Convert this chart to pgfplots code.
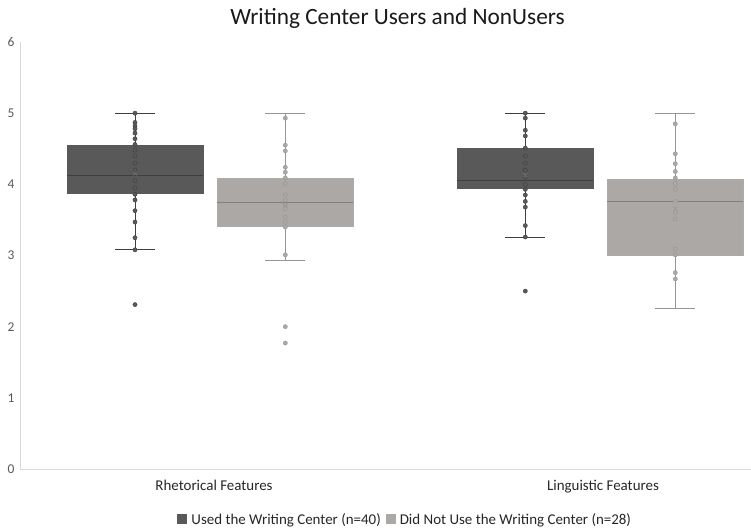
\documentclass[border=0pt]{standalone}
\usepackage{fontspec}
\setmainfont{Carlito}
\usepackage{pgfplots}
\pgfplotsset{compat=1.18}
\usepgfplotslibrary{statistics}

\definecolor{darkbox}{HTML}{595959}
\definecolor{darkline}{HTML}{3F3F3F}
\definecolor{lightbox}{HTML}{ABA8A6}
\definecolor{lightline}{HTML}{969696}
\definecolor{axisgray}{HTML}{D9D9D9}
\definecolor{textgray}{HTML}{595959}

\begin{document}
\begin{tikzpicture}
\useasboundingbox (-20bp,-59bp) rectangle (731bp,469bp);
\begin{axis}[
  scale only axis,
  width=731bp, height=427bp,
  xmin=0, xmax=731,
  ymin=0, ymax=6,
  axis x line=bottom, axis y line=left,
  axis line style={draw=axisgray, -},
  ytick={0,1,2,3,4,5,6},
  xtick={194,583},
  xticklabels={Rhetorical Features, Linguistic Features},
  major tick length=0pt,
  yticklabel style={font=\fontsize{13.5}{15}\selectfont, text=textgray, xshift=-2bp},
  xticklabel style={font=\fontsize{15}{17}\selectfont, text=black!85, yshift=-8bp},
  /pgf/number format/assume math mode=true,
  boxplot/draw direction=y,
  clip=false,
  legend style={at={(rel axis cs:0.527,-0.118)}, anchor=center, draw=none,
    font=\fontsize{15}{17}\selectfont, text=black!85,
    /tikz/every odd column/.append style={column sep=2bp},
    /tikz/every even column/.append style={column sep=3bp}},
  legend columns=2,
  legend image code/.code={\fill[#1, draw=none] (0bp,-5bp) rectangle (10bp,5bp);},
]
\addlegendimage{fill=darkbox}
\addlegendentry{Used the Writing Center (n=40)}
\addlegendimage{fill=lightbox}
\addlegendentry{Did Not Use the Writing Center (n=28)}

% boxes
\addplot[boxplot prepared={draw position=115, box extend=136, whisker extend=40,
  lower whisker=3.08, lower quartile=3.87, median=4.13, upper quartile=4.55, upper whisker=5.0},
  boxplot/every box/.style={fill=darkbox, draw=darkbox},
  boxplot/every median/.style={draw=darkline, line width=0.8pt},
  boxplot/every whisker/.style={draw=darkline, line width=0.9pt},
  mark=none] coordinates {};
\addplot[boxplot prepared={draw position=265.3, box extend=136, whisker extend=40,
  lower whisker=2.93, lower quartile=3.41, median=3.75, upper quartile=4.09, upper whisker=5.0},
  boxplot/every box/.style={fill=lightbox, draw=lightline!80},
  boxplot/every median/.style={draw=lightline!120, line width=0.8pt},
  boxplot/every whisker/.style={draw=lightline, line width=0.9pt},
  mark=none] coordinates {};
\addplot[boxplot prepared={draw position=505.3, box extend=136, whisker extend=40,
  lower whisker=3.26, lower quartile=3.94, median=4.06, upper quartile=4.51, upper whisker=5.0},
  boxplot/every box/.style={fill=darkbox, draw=darkbox},
  boxplot/every median/.style={draw=darkline, line width=0.8pt},
  boxplot/every whisker/.style={draw=darkline, line width=0.9pt},
  mark=none] coordinates {};
\addplot[boxplot prepared={draw position=655.3, box extend=136, whisker extend=40,
  lower whisker=2.25, lower quartile=3.01, median=3.76, upper quartile=4.07, upper whisker=5.0},
  boxplot/every box/.style={fill=lightbox, draw=lightline!80},
  boxplot/every median/.style={draw=lightline!120, line width=0.8pt},
  boxplot/every whisker/.style={draw=lightline, line width=0.9pt},
  mark=none] coordinates {};

% points, Used the Writing Center
\addplot[only marks, mark=*, mark size=2.1bp, mark options={fill=darkbox, draw=darkline}] coordinates {
  (115,5.0) (115,4.87) (115,4.82) (115,4.78) (115,4.72) (115,4.64) (115,4.56) (115,4.48)
  (115,4.40) (115,4.30) (115,4.20) (115,4.05) (115,3.95) (115,3.86) (115,3.78)
  (115,3.63) (115,3.47) (115,3.25) (115,3.08) (115,2.31)
  (505.3,5.0) (505.3,4.93) (505.3,4.76) (505.3,4.68) (505.3,4.51) (505.3,4.40) (505.3,4.30)
  (505.3,4.20) (505.3,4.10) (505.3,4.00) (505.3,3.93) (505.3,3.85) (505.3,3.76) (505.3,3.68)
  (505.3,3.42) (505.3,3.26) (505.3,2.50)
};
% points, Did Not Use the Writing Center
\addplot[only marks, mark=*, mark size=2.1bp, mark options={fill=lightbox, draw=lightline}] coordinates {
  (265.3,4.93) (265.3,4.55) (265.3,4.47) (265.3,4.24) (265.3,4.17) (265.3,4.09) (265.3,4.01)
  (265.3,3.85) (265.3,3.78) (265.3,3.71) (265.3,3.66) (265.3,3.54) (265.3,3.47) (265.3,3.40)
  (265.3,3.01) (265.3,2.00) (265.3,1.77)
  (655.3,4.85) (655.3,4.43) (655.3,4.29) (655.3,4.18) (655.3,4.09) (655.3,4.01) (655.3,3.93)
  (655.3,3.76) (655.3,3.60) (655.3,3.51) (655.3,3.09) (655.3,3.01) (655.3,2.76) (655.3,2.67)
};
% means
\addplot[only marks, mark=x, mark size=3bp, mark options={draw=darkline!70}] coordinates {
  (115,4.15) (505.3,4.13)
};
\addplot[only marks, mark=x, mark size=3bp, mark options={draw=lightline}] coordinates {
  (265.3,3.70) (655.3,3.66)
};
\end{axis}
\node[font=\fontsize{23.4}{27}\selectfont, text=black!90] at (377.5bp,451bp) {Writing Center Users and NonUsers};
\end{tikzpicture}
\end{document}
